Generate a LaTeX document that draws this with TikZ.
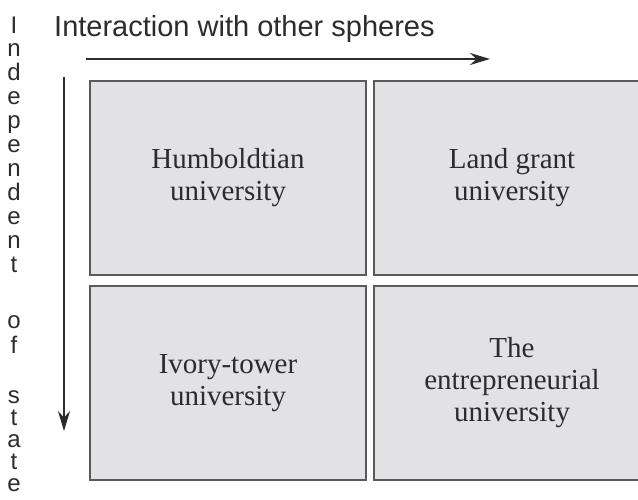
\documentclass[tikz,border=0pt]{standalone}
\usepackage{fontspec}
\setmainfont{Liberation Serif}
\newfontfamily\arialf{Liberation Sans}
\usetikzlibrary{arrows.meta}
\definecolor{boxfill}{HTML}{E2E2E4}
\definecolor{boxline}{HTML}{5A5A5A}
\definecolor{ink}{HTML}{2C2C2C}
\begin{document}
\begin{tikzpicture}[x=1pt,y=-1pt,
  cell/.style={draw=boxline,line width=2.5pt,fill=boxfill,minimum width=276pt,minimum height=194pt,inner sep=0pt,align=center,font=\fontsize{29}{32}\selectfont,text=ink},
  vl/.style={anchor=base,font=\arialf\fontsize{24}{24}\selectfont,text=ink,inner sep=0pt},
  arr/.style={draw=ink,line width=2pt,-{Stealth[length=20pt,width=12pt]}}]
\useasboundingbox (0,0) rectangle (638,499);
\fill[white] (0,0) rectangle (638,499);
\clip (0,0) rectangle (638,499);
% title
\node[anchor=base west,inner sep=0pt,font=\arialf\fontsize{29}{29}\selectfont,text=ink] (title) at (54,36) {Interaction with other spheres};
% boxes
\node[cell] (hum) at (228,178) {Humboldtian\\university};
\node[cell] (land) at (512,178) {Land grant\\university};
\node[cell] (ivory) at (228,383) {Ivory-tower\\university};
\node[cell] (entre) at (512,383) {The\\entrepreneurial\\university};
% arrows
\coordinate (hs) at (86,59);
\coordinate (he) at (490,59);
\coordinate (vs) at (64,77);
\coordinate (ve) at (64,431);
\draw[arr] (hs) -- (he);
\draw[arr] (vs) -- (ve);
% vertical label
\foreach \ch [count=\i from 0] in {I,n,d,e,p,e,n,d,e,n,t}{
  \node[vl] (v\i) at (14,33+23.9*\i) {\ch};
}
\node[vl] (vo) at (14,328) {o};
\node[vl] (vf) at (14,353) {f};
\node[vl] (vs1) at (14,403) {s};
\node[vl] (vt1) at (14,425) {t};
\node[vl] (va) at (14,447) {a};
\node[vl] (vt2) at (14,469) {t};
\node[vl] (ve2) at (14,491) {e};
\end{tikzpicture}
\end{document}
